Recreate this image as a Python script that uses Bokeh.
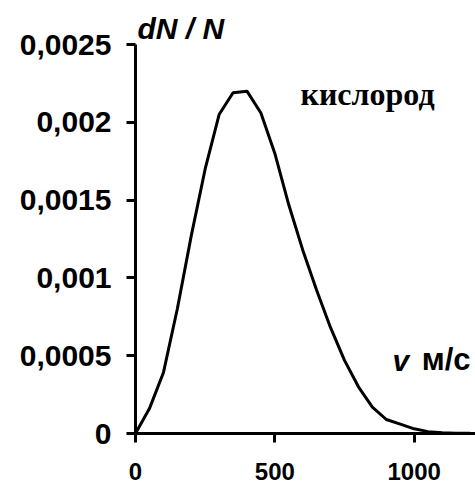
from bokeh.plotting import figure
from bokeh.models import Label, FixedTicker, CustomJSTickFormatter, Range1d
from bokeh.embed import file_html
from bokeh.resources import INLINE

# Data (speed in m/s, dN/N)
speeds = [0, 50, 100, 150, 200, 250, 300, 350, 400, 450, 500, 550, 600,
          650, 700, 750, 800, 850, 900, 950, 1000, 1050, 1100, 1150, 1200]
fractions = [0.0, 0.00016, 0.00039, 0.00080, 0.00127, 0.00170, 0.00205,
             0.00219, 0.00220, 0.00206, 0.00180, 0.00147, 0.00118,
             0.00092, 0.00068, 0.00047, 0.00030, 0.00017, 0.00009,
             0.00006, 0.00003, 0.000012, 0.000005, 0.000002, 0.000001]

y_ticks = [0, 0.0005, 0.001, 0.0015, 0.002, 0.0025]
y_tick_labels = ["0", "0,0005", "0,001", "0,0015", "0,002", "0,0025"]
x_ticks = [0, 500, 1000]
x_tick_labels = ["0", "500", "1000"]

FONT = "Liberation Sans"

p = figure(width=475, height=486, output_backend="svg", toolbar_location=None,
           x_range=Range1d(0, 1220), y_range=Range1d(0, 0.0025),
           min_border_left=135, min_border_right=0, min_border_top=44,
           min_border_bottom=53)
p.outline_line_color = None
p.grid.visible = False
p.background_fill_color = "white"
p.border_fill_color = "white"

p.title.text = "dN / N"
p.title.align = "left"
p.title.text_font = FONT
p.title.text_font_style = "bold italic"
p.title.text_font_size = "30px"
p.title.text_color = "black"
p.title.standoff = 0
p.title.offset = 2

JS = """
let best = 0, bd = 1e9;
for (let i = 0; i < tv.length; i++) { const d = Math.abs(tv[i] - tick); if (d < bd) { bd = d; best = i; } }
return tl[best];
"""
p.yaxis.ticker = FixedTicker(ticks=y_ticks)
p.yaxis.formatter = CustomJSTickFormatter(args=dict(tv=y_ticks, tl=y_tick_labels), code=JS)
p.xaxis.ticker = FixedTicker(ticks=x_ticks)
p.xaxis.formatter = CustomJSTickFormatter(args=dict(tv=x_ticks, tl=x_tick_labels), code=JS)

for ax in (p.xaxis, p.yaxis):
    ax.axis_line_width = 3
    ax.axis_line_color = "black"
    ax.major_tick_line_width = 3
    ax.major_tick_line_color = "black"
    ax.major_tick_in = 0
    ax.major_tick_out = 9
    ax.minor_tick_line_color = None
    ax.major_label_text_font = FONT
    ax.major_label_text_font_style = "bold"
    ax.major_label_text_color = "black"

p.yaxis.major_label_text_font_size = "30px"
p.yaxis.major_label_standoff = 15
p.xaxis.major_label_text_font_size = "24px"
p.xaxis.major_label_standoff = 20

p.line(speeds, fractions, line_color="black", line_width=3)

p.add_layout(Label(x=592, y=0.002063, text="кислород", text_font="Liberation Serif",
                   text_font_style="bold", text_font_size="32px",
                   text_color="black"))
p.add_layout(Label(x=922, y=0.000366, text="v", text_font=FONT,
                   text_font_style="bold italic", text_font_size="30px",
                   text_color="black"))
p.add_layout(Label(x=1027, y=0.000366, text="м/с", text_font=FONT,
                   text_font_style="bold", text_font_size="31px",
                   text_color="black"))

open("out.html", "w").write(file_html(p, INLINE))
